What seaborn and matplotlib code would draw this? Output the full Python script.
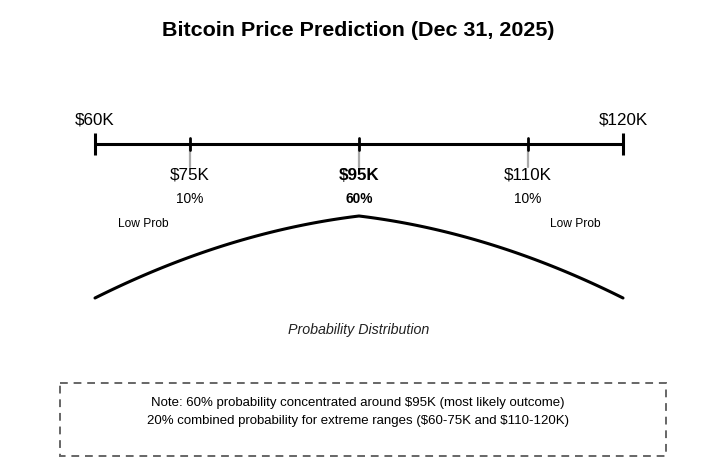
import numpy as np
import pandas as pd
import matplotlib
matplotlib.use("Agg")
import matplotlib.pyplot as plt
import seaborn as sns
from matplotlib.patches import Rectangle

# ---- data ----
title = "Bitcoin Price Prediction (Dec 31, 2025)"
end_labels = ["$60K", "$120K"]
mid_labels = ["$75K", "$95K", "$110K"]
mid_probs = ["10%", "60%", "10%"]
mid_bold = [False, True, False]
side_labels = ["Low Prob", "Low Prob"]
curve_label = "Probability Distribution"
note_lines = [
    "Note: 60% probability concentrated around $95K (most likely outcome)",
    "20% combined probability for extreme ranges ($60-75K and $110-120K)",
]

# ---- layout (pixel-like canvas coordinates) ----
W, H = 717, 474
ax_x0, ax_x1, ax_y = 95, 623, 144
mid_frac = [0.18, 0.5, 0.82]

sns.set_theme(style="white")
plt.rcParams["font.family"] = ["Liberation Sans", "DejaVu Sans"]
plt.rcParams["text.parse_math"] = False

fig = plt.figure(figsize=(W / 100, H / 100), dpi=100)
ax = fig.add_axes([0, 0, 1, 1])

def pt(px):
    return px * 72 / 100

# title
ax.text(W / 2, 30, title, ha="center", va="center", fontsize=pt(21.5),
        fontweight="bold", color="black")

# main axis line
ax.plot([ax_x0, ax_x1], [ax_y, ax_y], color="black", lw=2.2, solid_capstyle="butt")
for x in (ax_x0, ax_x1):
    ax.plot([x, x], [133, 155], color="black", lw=2.2, solid_capstyle="butt")
for x, lab in zip((ax_x0, ax_x1), end_labels):
    ax.text(x, 120, lab, ha="center", va="center", fontsize=pt(17), color="black")

for f, lab, prob, b in zip(mid_frac, mid_labels, mid_probs, mid_bold):
    x = ax_x0 + f * (ax_x1 - ax_x0)
    ax.plot([x, x], [144, 167], color="#aaaaaa", lw=1.6, zorder=1)
    ax.plot([x, x], [138, 150], color="black", lw=2.0, zorder=2)
    ax.text(x, 175, lab, ha="center", va="center", fontsize=pt(17),
            fontweight="bold" if b else "normal", color="black")
    ax.text(x, 199, prob, ha="center", va="center", fontsize=pt(13.7),
            fontweight="bold" if b else "normal", color="black")

for x, lab in zip((143, 575), side_labels):
    ax.text(x, 224, lab, ha="center", va="center", fontsize=pt(12), color="black")

# curve: two quadratic Bezier halves
def bez(p0, c, p1, n=60):
    t = np.linspace(0, 1, n)
    x = (1 - t) ** 2 * p0[0] + 2 * t * (1 - t) * c[0] + t ** 2 * p1[0]
    y = (1 - t) ** 2 * p0[1] + 2 * t * (1 - t) * c[1] + t ** 2 * p1[1]
    return x, y

peak = (359, 216)
lx, ly = bez((95, 298), (227, 232), peak)
rx, ry = bez(peak, (491, 232), (623, 298))
curve = pd.DataFrame({"x": np.concatenate([lx, rx[1:]]), "y": np.concatenate([ly, ry[1:]])})
sns.lineplot(data=curve, x="x", y="y", sort=False, color="black", lw=2.2, ax=ax)

ax.text(359, 330, curve_label, ha="center", va="center", fontsize=pt(14.3),
        fontstyle="italic", color="#222222")

# note box
ax.add_patch(Rectangle((60, 383), 606, 73, fill=False, edgecolor="#666666",
                       lw=1.4, linestyle=(0, (4, 3))))
for y, line in zip((403, 421), note_lines):
    ax.text(W / 2 - 0.5, y, line, ha="center", va="center", fontsize=pt(13.3), color="black")

ax.set_xlim(0, W)
ax.set_ylim(H, 0)
ax.axis("off")

fig.savefig("out.png", dpi=100)
